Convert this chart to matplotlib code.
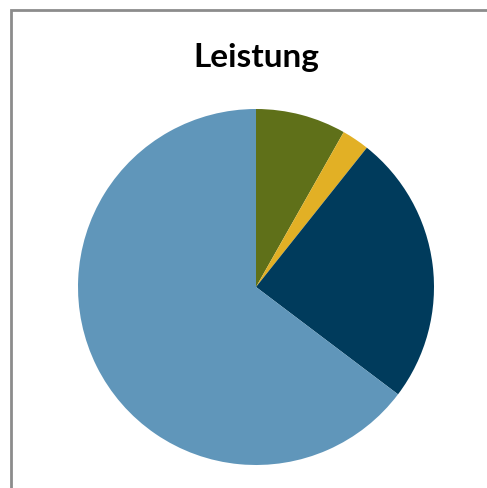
import matplotlib.pyplot as plt
from matplotlib.patches import Rectangle

# slice shares, clockwise from 12 o'clock
labels = ["A", "B", "C", "D"]
values = [8.2, 2.5, 24.6, 64.7]
colors = ["#5f7019", "#e2b025", "#003b5c", "#6096ba"]

W, H = 487, 489
fig = plt.figure(figsize=(W / 100, H / 100), dpi=100)

# grey chart frame (runs off the right and bottom edge)
fig.patches.append(Rectangle((10.5 / W, -0.1), 1.2, 1 - 10.5 / H + 0.1,
                             transform=fig.transFigure, fill=False,
                             edgecolor="#8c8c8c", linewidth=2))

cx, cy, r = 256, 288, 178
ax = fig.add_axes([(cx - r) / W, (H - cy - r) / H, 2 * r / W, 2 * r / H])
ax.pie(values, colors=colors, startangle=90, counterclock=False, radius=1,
       wedgeprops=dict(linewidth=0))
ax.set_xlim(-1, 1)
ax.set_ylim(-1, 1)
ax.set_aspect("auto")
ax.axis("off")

fig.text(cx / W, 1 - 58 / H, "Leistung", ha="center", va="center",
         fontsize=24, fontweight="bold", family=["Lato", "DejaVu Sans"])

fig.savefig("out.png", dpi=100)
